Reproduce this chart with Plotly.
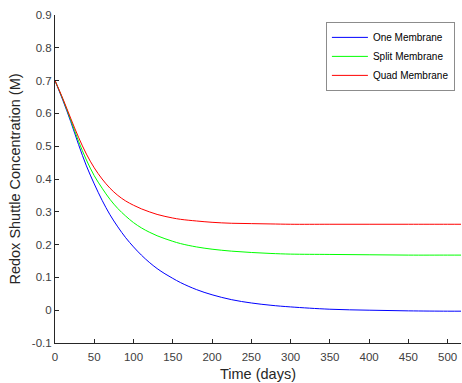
import plotly.graph_objects as go

time_days = [0, 10, 20, 30, 40, 50, 60, 70, 80, 90, 100, 110, 120, 130, 140, 150, 160,
             180, 200, 225, 250, 275, 300, 350, 400, 450, 500, 520]
one_membrane = [0.700, 0.640, 0.575, 0.505, 0.440, 0.385, 0.335, 0.291, 0.254, 0.221, 0.193,
                0.168, 0.146, 0.127, 0.111, 0.097, 0.084, 0.063, 0.047, 0.032, 0.022, 0.015,
                0.010, 0.003, 0.000, -0.002, -0.003, -0.003]
split_membrane = [0.700, 0.643, 0.580, 0.515, 0.458, 0.410, 0.372, 0.338, 0.310, 0.287, 0.267,
                  0.251, 0.238, 0.227, 0.218, 0.210, 0.203, 0.193, 0.186, 0.180, 0.176, 0.173,
                  0.171, 0.170, 0.169, 0.168, 0.168, 0.168]
quad_membrane = [0.700, 0.645, 0.585, 0.527, 0.476, 0.434, 0.400, 0.372, 0.350, 0.333, 0.320,
                 0.309, 0.300, 0.292, 0.286, 0.281, 0.277, 0.272, 0.268, 0.265, 0.264, 0.263,
                 0.262, 0.262, 0.262, 0.262, 0.262, 0.262]

series_names = ["One Membrane", "Split Membrane", "Quad Membrane"]
series_colors = ["#0000ff", "#00ff00", "#ff0000"]

x_ticks = [0, 50, 100, 150, 200, 250, 300, 350, 400, 450, 500]
y_ticks = [-0.1, 0, 0.1, 0.2, 0.3, 0.4, 0.5, 0.6, 0.7, 0.8, 0.9]
y_tick_text = ["-0.1", "0", "0.1", "0.2", "0.3", "0.4", "0.5", "0.6", "0.7", "0.8", "0.9"]

fig = go.Figure()
for name, ys, col in zip(series_names, [one_membrane, split_membrane, quad_membrane], series_colors):
    fig.add_trace(go.Scatter(x=time_days, y=ys, mode="lines", name=name,
                             line=dict(color=col, width=1, shape="spline", smoothing=1)))

axis_col = "#262626"
text_col = "#404040"
fig.update_layout(
    width=462, height=383,
    margin=dict(l=55, r=1, t=15, b=40),
    paper_bgcolor="white", plot_bgcolor="white",
    font=dict(family="Liberation Sans, Arial, sans-serif", size=11, color=text_col),
    showlegend=True,
    legend=dict(x=0.985, y=0.979, xanchor="right", yanchor="top",
                bgcolor="white", bordercolor="#8c8c8c", borderwidth=1,
                font=dict(size=10, color="#000000"), tracegroupgap=0,
                itemwidth=36),
    xaxis=dict(range=[0, 517], tickvals=x_ticks, ticks="inside", ticklen=4,
               tickcolor=axis_col, showline=True, linecolor=axis_col, linewidth=1,
               showgrid=False, zeroline=False, ticklabelstandoff=3,
               tickfont=dict(size=11.5),
               title=dict(text="Time (days)", font=dict(size=14.5, color="#262626"), standoff=7)),
    yaxis=dict(range=[-0.1, 0.9], tickvals=y_ticks, ticktext=y_tick_text, ticks="inside",
               ticklen=4, tickcolor=axis_col, showline=True, linecolor=axis_col, linewidth=1,
               showgrid=False, zeroline=False, tickfont=dict(size=11.5),
               title=dict(text="Redox Shuttle Concentration (M)",
                          font=dict(size=14.5, color="#262626"), standoff=7)),
)

fig.write_html("out.html")
